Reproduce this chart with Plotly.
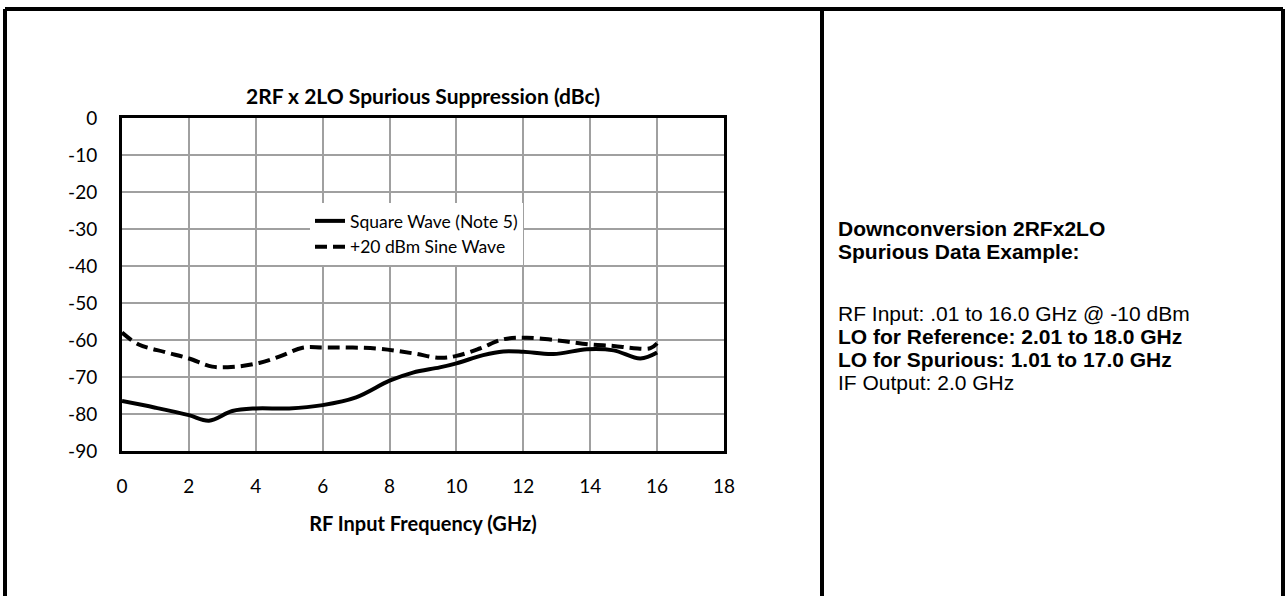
import plotly.graph_objects as go

# ---- data ----
square_x = [0, 1, 2, 2.6, 3.3, 4, 5, 6, 7, 8, 8.7, 9.5, 10, 10.8, 11.4, 12, 12.9, 13.9, 14.7, 15.5, 16]
square_y = [-76.5, -78.3, -80.3, -81.8, -79.2, -78.5, -78.5, -77.6, -75.5, -71.0, -68.8, -67.4, -66.3, -64.1, -63.1, -63.2, -63.8, -62.5, -62.8, -65.0, -63.4]
sine_x = [0, 0.5, 1.3, 2, 2.7, 3.4, 4.1, 4.7, 5.4, 6, 7.6, 8.7, 9.5, 10, 10.7, 11.4, 12.1, 13.1, 14, 14.7, 15.3, 15.8, 16]
sine_y = [-58.0, -61.2, -63.3, -65.0, -67.2, -67.2, -66.2, -64.5, -62.1, -62.0, -62.3, -63.6, -64.8, -64.3, -62.3, -59.8, -59.4, -60.2, -61.2, -61.6, -62.2, -62.2, -60.9]
series_names = ["Square Wave (Note 5)", "+20 dBm Sine Wave"]
x_ticks = [0, 2, 4, 6, 8, 10, 12, 14, 16, 18]
y_ticks = [0, -10, -20, -30, -40, -50, -60, -70, -80, -90]
chart_title = "2RF x 2LO Spurious Suppression (dBc)"
x_title = "RF Input Frequency (GHz)"
side_lines = [
    ("Downconversion 2RFx2LO", True),
    ("Spurious Data Example:", True),
    ("RF Input: .01 to 16.0 GHz @ -10 dBm", False),
    ("LO for Reference: 2.01 to 18.0 GHz", True),
    ("LO for Spurious: 1.01 to 17.0 GHz", True),
    ("IF Output: 2.0 GHz", False),
]
side_y_px = [228, 251, 313, 336, 359, 382]

W, H = 1286, 596
L, R, T, B = 122, 724, 118, 451  # plot area in pixels


def px_x(p):
    return (p - L) / (R - L)


def px_y(q):
    return (B - q) / (B - T)


CHART_FONT = "Lato"

fig = go.Figure()
fig.add_trace(go.Scatter(x=square_x, y=square_y, mode="lines", name=series_names[0],
                         line=dict(color="black", width=4, shape="spline", smoothing=1)))
fig.add_trace(go.Scatter(x=sine_x, y=sine_y, mode="lines", name=series_names[1],
                         line=dict(color="black", width=4, shape="spline", smoothing=1, dash="12px,6px")))

fig.update_layout(
    width=W, height=H,
    margin=dict(l=L, r=W - R, t=T, b=H - B, pad=0),
    paper_bgcolor="white", plot_bgcolor="white",
    font=dict(family=CHART_FONT, size=19, color="black"),
    title=dict(text="<b>" + chart_title + "</b>", x=((L + R) / 2) / W, xanchor="center",
               y=1 - 97 / H, yanchor="middle", font=dict(family=CHART_FONT, size=21, color="black")),
    showlegend=True,
    legend=dict(x=px_x(310), y=px_y(203), xanchor="left", yanchor="top",
                bgcolor="white", borderwidth=0, font=dict(family=CHART_FONT, size=17.5, color="black"),
                tracegroupgap=0),
    xaxis=dict(range=[0, 18], tickvals=x_ticks, ticktext=[str(v) for v in x_ticks],
               showgrid=True, gridcolor="#a0a0a0", gridwidth=1.5, zeroline=False,
               showline=True, linecolor="black", linewidth=3, mirror=True, ticks="",
               ticklabelstandoff=16, tickfont=dict(size=19),
               title=dict(text="<b>" + x_title + "</b>", standoff=22, font=dict(size=20))),
    yaxis=dict(range=[-90, 0], tickvals=y_ticks, ticktext=[str(v) for v in y_ticks],
               showgrid=True, gridcolor="#a0a0a0", gridwidth=1.5, zeroline=False,
               showline=True, linecolor="black", linewidth=3, mirror=True, ticks="",
               ticklabelstandoff=18, tickfont=dict(size=19)),
)

# outer frame and divider
top, bottom = px_y(9), px_y(610)
left, right, div = px_x(5), px_x(1283), px_x(822)
frame = dict(type="line", xref="paper", yref="paper", line=dict(color="black", width=4), layer="above")
fig.add_shape(x0=left, x1=right, y0=top, y1=top, **frame)
fig.add_shape(x0=left, x1=left, y0=top, y1=bottom, **frame)
fig.add_shape(x0=right, x1=right, y0=top, y1=bottom, **frame)
fig.add_shape(x0=div, x1=div, y0=top, y1=bottom, **frame)

for (txt, bold), yp in zip(side_lines, side_y_px):
    fig.add_annotation(x=px_x(836), y=px_y(yp), xref="paper", yref="paper",
                       xanchor="left", yanchor="middle", showarrow=False,
                       text=("<b>" + txt + "</b>") if bold else txt,
                       font=dict(family="Liberation Sans", size=21, color="black"))

fig.write_html("out.html", config={"displayModeBar": False},
               post_script="document.body.style.margin='0px';document.body.style.overflow='hidden';")
